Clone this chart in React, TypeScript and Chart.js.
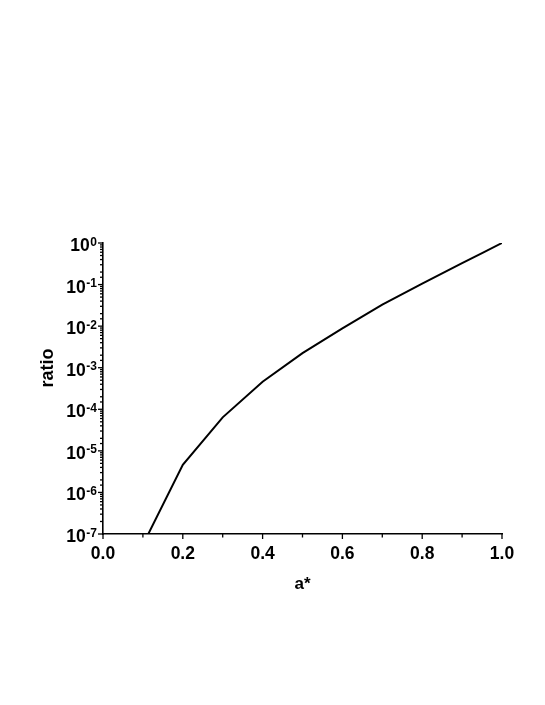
import React, { useEffect, useRef } from "react";
import { Chart, registerables } from "chart.js";

Chart.register(...registerables);

const aStar = [0.1, 0.2, 0.3, 0.4, 0.5, 0.6, 0.7, 0.8, 0.9, 0.95, 1.0];
const ratio = [5.5e-8, 4.6e-6, 6.4e-5, 4.6e-4, 2.25e-3, 8.8e-3, 0.033, 0.105, 0.33, 0.57, 1.0];
const xTitle = "a*";
const yTitle = "ratio";
const yExponents = [0, -1, -2, -3, -4, -5, -6, -7];

const FONT = "'Liberation Sans', Arial, sans-serif";

const axisDecor = {
  id: "axisDecor",
  afterDraw(chart: any) {
    const ctx = chart.ctx as CanvasRenderingContext2D;
    const xs = chart.scales.x;
    const ys = chart.scales.y;
    const { left, bottom, right } = chart.chartArea;
    ctx.save();
    ctx.strokeStyle = "#000";
    ctx.fillStyle = "#000";
    ctx.lineWidth = 1.3;
    xs.ticks.forEach((t: any) => {
      const px = xs.getPixelForValue(t.value);
      const major = Math.round(t.value * 10) % 2 === 0;
      const len = major ? 5 : 3.5;
      ctx.beginPath();
      ctx.moveTo(px, bottom);
      ctx.lineTo(px, bottom + len);
      ctx.stroke();
    });
    ys.ticks.forEach((t: any) => {
      const py = ys.getPixelForValue(t.value);
      const e = Math.log10(t.value);
      const major = Math.abs(e - Math.round(e)) < 1e-6;
      const len = major ? 5 : 3;
      ctx.beginPath();
      ctx.moveTo(left, py);
      ctx.lineTo(left - len, py);
      ctx.stroke();
    });
    yExponents.forEach((ex) => {
      const py = ys.getPixelForValue(Math.pow(10, ex));
      const expStr = ex === 0 ? "0" : "-" + String(-ex);
      ctx.font = `bold 12px ${FONT}`;
      ctx.textBaseline = "alphabetic";
      ctx.textAlign = "right";
      const rightEdge = left - 6;
      const ew = ctx.measureText(expStr).width;
      ctx.fillText(expStr, rightEdge, py + 2.5);
      ctx.font = `bold 17.5px ${FONT}`;
      ctx.fillText("10", rightEdge - ew - 0.5, py + 8);
    });
    ctx.textAlign = "center";
    ctx.textBaseline = "middle";
    ctx.font = `bold 17px ${FONT}`;
    ctx.fillText(xTitle, (left + right) / 2, 584);
    ctx.save();
    ctx.translate(48, 368);
    ctx.rotate(-Math.PI / 2);
    ctx.font = `bold 18px ${FONT}`;
    ctx.fillText(yTitle, 0, 0);
    ctx.restore();
    ctx.restore();
  },
};

export default function App() {
  const ref = useRef<HTMLCanvasElement | null>(null);
  useEffect(() => {
    if (!ref.current) return;
    const points = aStar.map((a, i) => ({ x: a, y: ratio[i] }));
    const chart = new Chart(ref.current, {
      type: "line",
      data: {
        datasets: [
          {
            data: points,
            borderColor: "#000",
            borderWidth: 2,
            pointRadius: 0,
            tension: 0,
            fill: false,
          },
        ],
      },
      options: {
        animation: false,
        responsive: false,
        devicePixelRatio: 1,
        layout: { padding: { left: 0, top: 243, right: 43, bottom: 101 } },
        plugins: { legend: { display: false }, tooltip: { enabled: false } },
        scales: {
          x: {
            type: "linear",
            min: 0,
            max: 1,
            grid: { display: false, drawTicks: false },
            border: { display: true, color: "#000", width: 1.6 },
            ticks: {
              stepSize: 0.1,
              autoSkip: false,
              maxRotation: 0,
              padding: 10,
              color: "#000",
              font: { family: FONT, weight: "bold", size: 17.5 },
              callback: (v: any) => {
                const n = Math.round(Number(v) * 10);
                return n % 2 === 0 ? (n / 10).toFixed(1) : "";
              },
            },
            afterFit: (s: any) => {
              s.height = 70;
            },
          },
          y: {
            type: "logarithmic",
            min: 1e-7,
            max: 1,
            grid: { display: false, drawTicks: false },
            border: { display: true, color: "#000", width: 1.6 },
            ticks: { display: false },
            afterFit: (s: any) => {
              s.width = 103;
            },
          },
        },
      },
      plugins: [axisDecor],
    });
    return () => chart.destroy();
  }, []);
  return (
    <div style={{ position: "fixed", left: 0, top: 0, width: 545, height: 705, background: "#fff" }}>
      <canvas ref={ref} width={545} height={705} style={{ display: "block" }} />
    </div>
  );
}
